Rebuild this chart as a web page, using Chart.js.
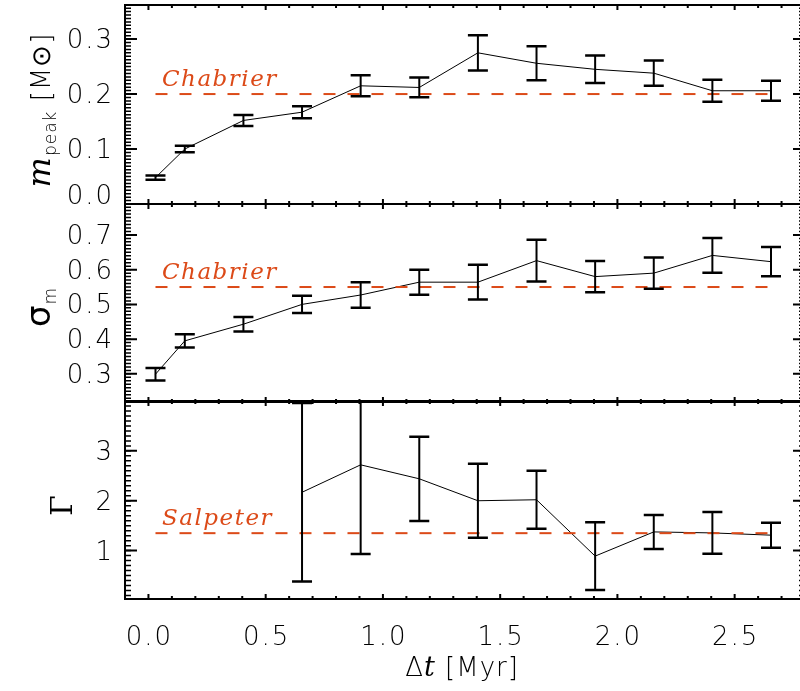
<!DOCTYPE html>
<html>
<head>
<meta charset="utf-8">
<style>
html, body { margin: 0; padding: 0; background: #fff; overflow: hidden; width: 800px; height: 691px; }
canvas { position: absolute; left: 0; top: 0; }
</style>
</head>
<body>
<canvas id="c1" width="808" height="691"></canvas>
<canvas id="c2" width="808" height="691"></canvas>
<canvas id="c3" width="808" height="691"></canvas>

<script src="https://cdn.jsdelivr.net/npm/chart.js"></script>
<script>
// time bins [Myr]
const dt = [0.03, 0.155, 0.405, 0.655, 0.905, 1.155, 1.405, 1.655, 1.905, 2.155, 2.405, 2.655];

// peak mass [Msun]
const mPeak    = [0.048, 0.100, 0.152, 0.167, 0.215, 0.212, 0.275, 0.256, 0.245, 0.238, 0.206, 0.206];
const mPeakErr = [0.004, 0.006, 0.010, 0.011, 0.019, 0.018, 0.032, 0.031, 0.025, 0.023, 0.020, 0.018];

// width of the lognormal
const sigma    = [0.299, 0.395, 0.443, 0.500, 0.527, 0.564, 0.564, 0.626, 0.580, 0.590, 0.641, 0.623];
const sigmaErr = [0.018, 0.019, 0.021, 0.025, 0.037, 0.036, 0.050, 0.060, 0.045, 0.045, 0.050, 0.042];

// high-mass slope (no fit for the first three bins)
const gamma    = [null, null, null, 2.17, 2.72, 2.44, 2.00, 2.02, 0.89, 1.375, 1.355, 1.31];
const gammaErr = [null, null, null, 1.79, 1.79, 0.845, 0.74, 0.58, 0.68, 0.34, 0.42, 0.25];

// reference values
const chabrierPeak = 0.2;
const chabrierSigma = 0.55;
const salpeterSlope = 1.35;

// tick labels
const xTicks = [0.0, 0.5, 1.0, 1.5, 2.0, 2.5];
const xLabels = ['0.0', '0.5', '1.0', '1.5', '2.0', '2.5'];
const mPeakTicks = [0.0, 0.1, 0.2, 0.3];
const mPeakLabels = ['0.0', '0.1', '0.2', '0.3'];
const sigmaTicks = [0.3, 0.4, 0.5, 0.6, 0.7];
const sigmaLabels = ['0.3', '0.4', '0.5', '0.6', '0.7'];
const gammaTicks = [1, 2, 3];
const gammaLabels = ['1', '2', '3'];

const ORANGE = '#dc4a18';
const SANS = '"DejaVu Sans", sans-serif';
const SERIF = '"DejaVu Serif", serif';

const panels = [
  { id: 'c1', values: mPeak, errors: mPeakErr, ref: chabrierPeak, refLabel: 'Chabrier',
    min: 0, max: 0.362, top: 5, bottom: 204, ticks: mPeakTicks, labels: mPeakLabels, minor: 0.1 / 16,
    title: { x: 50, y: 110, parts: [
      { t: 'm', f: 'italic 32px ' + SERIF, dy: 0 },
      { t: 'peak', f: '200 17px ' + SANS, dy: 6 },
      { t: ' [M\u2299]', f: '200 26px ' + SANS, dy: 0 } ] } },
  { id: 'c2', values: sigma, errors: sigmaErr, ref: chabrierSigma, refLabel: 'Chabrier',
    min: 0.219, max: 0.789, top: 204, bottom: 402, ticks: sigmaTicks, labels: sigmaLabels, minor: 0.01,
    title: { x: 50, y: 307, parts: [
      { t: '\u03c3', f: '34px ' + SANS, dy: 0 },
      { t: 'm', f: '200 17px ' + SANS, dy: 6 } ] } },
  { id: 'c3', values: gamma, errors: gammaErr, ref: salpeterSlope, refLabel: 'Salpeter',
    min: 0.03, max: 4.0, top: 401, bottom: 599, ticks: gammaTicks, labels: gammaLabels, minor: 0.1,
    title: { x: 72, y: 505, parts: [
      { t: '\u0393', f: '30px ' + SERIF, dy: 0 } ] } }
];

// draws a few text pieces side by side, centred on (cx, cy)
function drawParts(ctx, parts, cx, cy, rotated) {
  ctx.save();
  ctx.translate(cx, cy);
  if (rotated) ctx.rotate(-Math.PI / 2);
  ctx.letterSpacing = '1px';
  let total = 0;
  parts.forEach(p => { ctx.font = p.f; p.w = ctx.measureText(p.t).width; total += p.w; });
  let x = -total / 2;
  ctx.textAlign = 'left';
  ctx.textBaseline = 'alphabetic';
  ctx.fillStyle = '#000';
  parts.forEach(p => { ctx.font = p.f; ctx.fillText(p.t, x, p.dy); x += p.w; });
  ctx.restore();
}

function framePlugin(p, isBottom) {
  return {
    id: 'frame',
    afterDraw(chart) {
      const ctx = chart.ctx, a = chart.chartArea;
      const xs = chart.scales.x, ys = chart.scales.y;

      // error bars
      ctx.save();
      ctx.beginPath();
      ctx.rect(a.left, a.top, a.right - a.left, a.bottom - a.top);
      ctx.clip();
      ctx.strokeStyle = '#000';
      dt.forEach((x, i) => {
        const v = p.values[i], e = p.errors[i];
        if (v === null) return;
        const px = xs.getPixelForValue(x);
        const y1 = ys.getPixelForValue(v + e), y2 = ys.getPixelForValue(v - e);
        ctx.lineWidth = 2;
        ctx.beginPath();
        ctx.moveTo(px, y1); ctx.lineTo(px, y2);
        ctx.stroke();
        ctx.lineWidth = 2.5;
        ctx.beginPath();
        ctx.moveTo(px - 10, y1); ctx.lineTo(px + 10, y1);
        ctx.moveTo(px - 10, y2); ctx.lineTo(px + 10, y2);
        ctx.stroke();
      });
      ctx.restore();

      // frame
      ctx.save();
      ctx.strokeStyle = '#000';
      ctx.lineWidth = 2;
      ctx.strokeRect(a.left, a.top, a.right - a.left, a.bottom - a.top);

      // x ticks, top and bottom
      ctx.beginPath();
      for (let k = -1; k <= 28; k++) {
        const px = xs.getPixelForValue(k / 10);
        const len = k % 5 === 0 ? 5 : 3;
        ctx.moveTo(px, a.bottom); ctx.lineTo(px, a.bottom - len);
        ctx.moveTo(px, a.top); ctx.lineTo(px, a.top + len);
      }
      ctx.stroke();

      // y ticks, left and right
      ctx.lineWidth = 1.5;
      ctx.beginPath();
      const k0 = Math.ceil(p.min / p.minor - 1e-6), k1 = Math.floor(p.max / p.minor + 1e-6);
      for (let k = k0; k <= k1; k++) {
        const py = ys.getPixelForValue(k * p.minor);
        ctx.moveTo(a.left, py); ctx.lineTo(a.left + 6, py);
        ctx.moveTo(a.right, py); ctx.lineTo(a.right - 6, py);
      }
      ctx.stroke();
      ctx.lineWidth = 2;
      ctx.beginPath();
      p.ticks.forEach(v => {
        const py = ys.getPixelForValue(v);
        ctx.moveTo(a.left, py); ctx.lineTo(a.left + 12, py);
        ctx.moveTo(a.right, py); ctx.lineTo(a.right - 12, py);
      });
      ctx.stroke();

      // y tick labels
      ctx.fillStyle = '#000';
      ctx.font = '200 26px ' + SANS;
      ctx.letterSpacing = '2px';
      ctx.textAlign = 'right';
      ctx.textBaseline = 'alphabetic';
      p.ticks.forEach((v, i) => {
        const py = Math.min(ys.getPixelForValue(v), a.bottom - 9);
        ctx.fillText(p.labels[i], 114, py + 9);
      });

      // x tick labels and title on the bottom panel
      if (isBottom) {
        ctx.textAlign = 'center';
        xTicks.forEach((v, i) => {
          ctx.fillText(xLabels[i], xs.getPixelForValue(v) + 1, 645);
        });
        drawParts(ctx, [
          { t: '\u0394', f: '200 26px ' + SANS, dy: 0 },
          { t: 't', f: 'italic 27px ' + SERIF, dy: 0 },
          { t: ' [Myr]', f: '200 26px ' + SANS, dy: 0 }
        ], 462, 676, false);
      }

      // reference label
      ctx.fillStyle = ORANGE;
      ctx.font = 'italic 23px ' + SERIF;
      ctx.letterSpacing = '1.5px';
      ctx.textAlign = 'left';
      ctx.fillText(p.refLabel, 162, ys.getPixelForValue(p.ref) - 8);
      ctx.restore();

      drawParts(ctx, p.title.parts, p.title.x, p.title.y, true);
    }
  };
}

panels.forEach((p, n) => {
  const pts = [];
  dt.forEach((x, i) => { if (p.values[i] !== null) pts.push({ x: x, y: p.values[i] }); });
  new Chart(document.getElementById(p.id), {
    type: 'line',
    data: {
      datasets: [
        { data: [{ x: dt[0], y: p.ref }, { x: dt[dt.length - 1], y: p.ref }],
          borderColor: ORANGE, borderWidth: 2, borderDash: [12, 12], pointRadius: 0, fill: false },
        { data: pts, borderColor: '#000', borderWidth: 1, pointRadius: 0, tension: 0, fill: false }
      ]
    },
    options: {
      responsive: false,
      animation: false,
      events: [],
      layout: { padding: { left: 125, right: 3, top: p.top, bottom: 691 - p.bottom } },
      plugins: { legend: { display: false }, tooltip: { enabled: false } },
      scales: {
        x: { type: 'linear', min: -0.1, max: 2.8, display: false },
        y: { type: 'linear', min: p.min, max: p.max, display: false }
      }
    },
    plugins: [framePlugin(p, n === panels.length - 1)]
  });
});
</script>
</body>
</html>
